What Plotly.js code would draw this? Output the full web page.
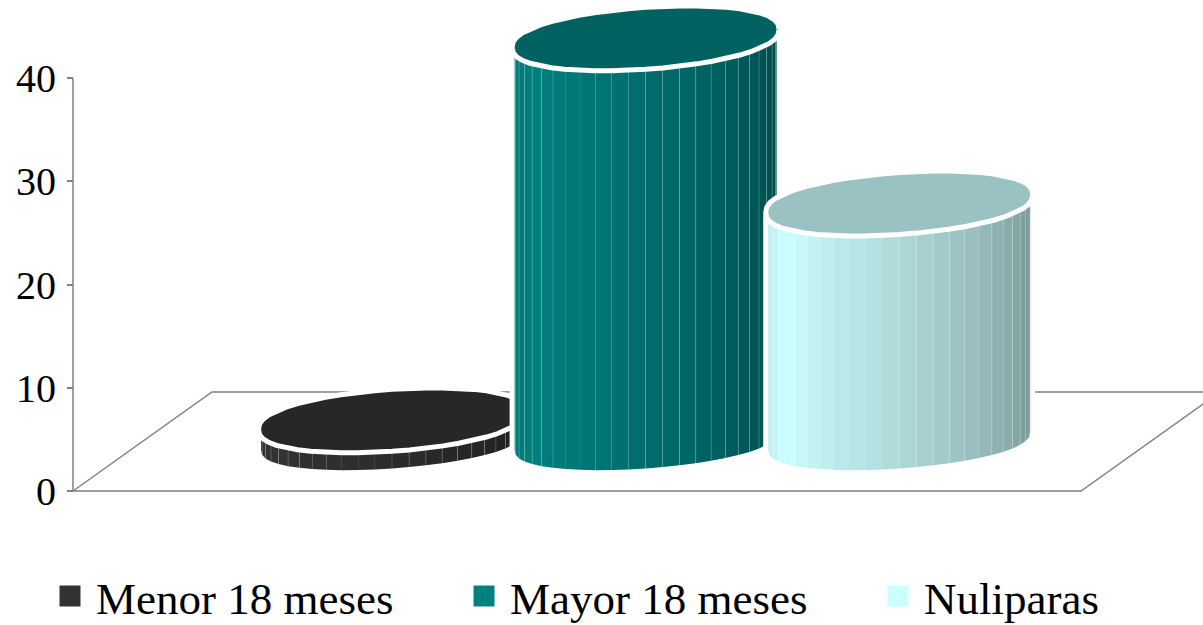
<!DOCTYPE html>
<html>
<head>
<meta charset="utf-8">
<script src="https://cdn.plot.ly/plotly-3.0.1.min.js"></script>
<style>html,body{margin:0;padding:0;background:#fff}</style>
</head>
<body>
<div id="chart" style="width:1203px;height:625px"></div>
<script>
// Series
const categories = ['Menor 18 meses', 'Mayor 18 meses', 'Nuliparas'];
const values = [2, 39, 23];
const tickValues = [0, 10, 20, 30, 40];

// Colours
const baseColors = [[51, 51, 51], [0, 128, 128], [204, 255, 255]];
const axisColor = '#808080';

// Drawing scale: the x axis runs in screen-sized units, the y axis in data units
const W = 1203, H = 625;
const pxPerUnit = 10.325;
const zeroPx = 491;
const axisX = 73;

// Oblique floor and cylinder proportions
const floorDepth = 99 / pxPerUnit;
const floorFrontEnd = 1081;
const floorSkew = 139;
const firstCenter = 392, slotWidth = 253.6;
const radiusX = 131, tiltPx = 9, radiusPx = 27.5;
const segments = 48;
const baseLevel = floorDepth / 2 + 0.05;
const roundness = 0.85;

// Brightness of the side wall as it turns away from the light (angle in degrees)
function wallShade(deg) {
  if (deg < 30) return 0.9 + 0.1 * deg / 30;
  if (deg < 90) return 1 - 0.15 * (deg - 30) / 60;
  return 0.85 - 0.28 * (deg - 90) / 90;
}
const rgb = (c, f) => `rgb(${c.map(v => Math.round(v * f)).join(',')})`;

// A point on the tilted, slightly blunted ellipse around centre (cx, level)
function rim(cx, level, t, growX, growY) {
  const a = radiusX + growX, b = radiusPx + growY;
  const s = Math.sin(t), c = Math.cos(t);
  const blunt = Math.sign(s) * Math.pow(Math.abs(s), roundness);
  return [cx + a * c, level + (b * blunt + tiltPx * c) / pxPerUnit];
}

const traces = [];

// Floor outline, then the value axis line
const floorX = [axisX, floorFrontEnd, floorFrontEnd + floorSkew, axisX + floorSkew, axisX];
const floorY = [0, 0, floorDepth, floorDepth, 0];
traces.push({x: floorX, y: floorY, mode: 'lines', line: {color: axisColor, width: 1.5}, showlegend: false, hoverinfo: 'skip'});
traces.push({x: [axisX, axisX], y: [0, 40], mode: 'lines', line: {color: axisColor, width: 1.5}, showlegend: false, hoverinfo: 'skip'});

// Legend keys: one marker per series, sitting behind its cylinder's cap
categories.forEach((name, i) => {
  traces.push({
    x: [firstCenter + i * slotWidth], y: [baseLevel + values[i]], name,
    mode: 'markers', legend: i ? 'legend' + (i + 1) : 'legend',
    marker: {symbol: 'square', size: 16, color: rgb(baseColors[i], 1), line: {width: 5, color: rgb(baseColors[i], 1)}},
    hovertemplate: name + ': %{customdata}<extra></extra>', customdata: [values[i]]
  });
});

// Cylinders, painted left to right so each one overlaps the previous
categories.forEach((name, i) => {
  const cx = firstCenter + i * slotWidth;
  const top = baseLevel + values[i];
  const color = baseColors[i];
  const step = 2 * Math.PI / segments;

  // White halo around the body
  const hx = [], hy = [];
  for (let k = 0; k <= segments / 2; k++) {
    const p = rim(cx, baseLevel, Math.PI + k * step, 5, 5);
    hx.push(p[0]); hy.push(p[1]);
  }
  for (let k = segments / 2; k >= 0; k--) {
    const p = rim(cx, top, Math.PI + k * step, 5, 5);
    hx.push(p[0]); hy.push(p[1]);
  }
  traces.push({x: hx, y: hy, mode: 'lines', fill: 'toself', fillcolor: '#ffffff', line: {width: 0}, showlegend: false, hoverinfo: 'skip'});

  // Side wall strips
  for (let k = 0; k < segments / 2; k++) {
    const t0 = Math.PI + k * step, t1 = t0 + step;
    const a = rim(cx, baseLevel, t0, 0, 0), b = rim(cx, baseLevel, t1, 0, 0);
    const c = rim(cx, top, t1, 0, 0), d = rim(cx, top, t0, 0, 0);
    const deg = (k + 0.5) * 360 / segments;
    traces.push({
      x: [a[0], b[0], c[0], d[0], a[0]], y: [a[1], b[1], c[1], d[1], a[1]],
      mode: 'lines', fill: 'toself', fillcolor: rgb(color, wallShade(deg)),
      line: {width: 0}, showlegend: false, hoverinfo: 'skip'
    });
  }

  // Faint seams between strips
  const sx = [], sy = [];
  for (let k = 1; k < segments / 2; k++) {
    const deg = k * 360 / segments;
    if (deg > 48 && deg < 90) continue;
    const t = Math.PI + k * step;
    const a = rim(cx, baseLevel, t, 0, 0), b = rim(cx, top, t, 0, 0);
    sx.push(a[0], b[0], null); sy.push(a[1], b[1], null);
  }
  traces.push({x: sx, y: sy, mode: 'lines', line: {color: 'rgba(255,255,255,0.17)', width: 1}, showlegend: false, hoverinfo: 'skip'});

  // Top cap with its white rim
  const capX = [], capY = [];
  for (let k = 0; k <= segments; k++) {
    const p = rim(cx, top, k * step, 2.5, 3.5);
    capX.push(p[0]); capY.push(p[1]);
  }
  traces.push({
    x: capX, y: capY, mode: 'lines', fill: 'toself', fillcolor: rgb(color, 0.76),
    line: {color: '#ffffff', width: 5}, showlegend: false, hoverinfo: 'skip'
  });
});

const legendBase = {
  xanchor: 'left', yanchor: 'middle', y: 0.046, bgcolor: 'rgba(0,0,0,0)', borderwidth: 0,
  itemwidth: 42, font: {family: '"Liberation Serif", serif', size: 45, color: '#000'}
};

const layout = {
  width: W, height: H,
  margin: {l: 0, r: 0, t: 0, b: 0, autoexpand: false},
  paper_bgcolor: '#fff', plot_bgcolor: '#fff',
  xaxis: {range: [0, W], visible: false, fixedrange: true},
  yaxis: {
    range: [-(H - zeroPx) / pxPerUnit, zeroPx / pxPerUnit],
    anchor: 'free', position: axisX / W,
    tickmode: 'array', tickvals: tickValues, ticktext: tickValues.map(String),
    ticks: 'outside', ticklen: 6, tickwidth: 1.5, tickcolor: axisColor, ticklabelstandoff: 3,
    showgrid: false, zeroline: false, showline: false, fixedrange: true,
    tickfont: {family: '"Liberation Serif", serif', size: 40, color: '#000'}
  },
  legend: Object.assign({x: 44 / W}, legendBase),
  legend2: Object.assign({x: 458 / W}, legendBase),
  legend3: Object.assign({x: 872 / W}, legendBase),
  showlegend: true
};

Plotly.newPlot('chart', traces, layout, {displayModeBar: false});
</script>
</body>
</html>
